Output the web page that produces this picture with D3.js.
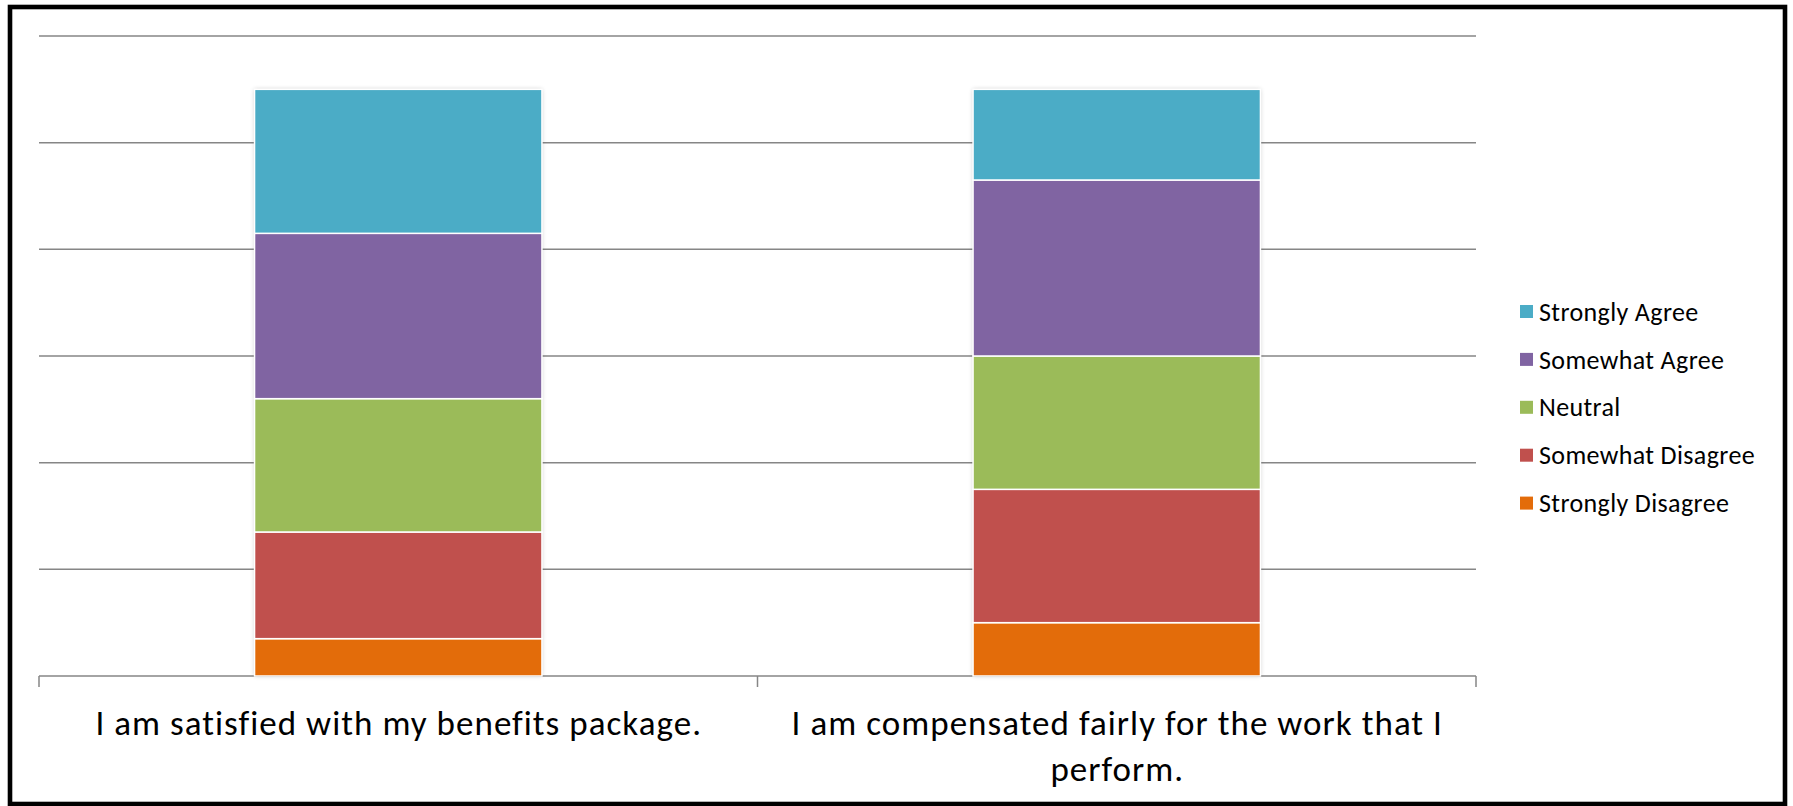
<!DOCTYPE html>
<html>
<head>
<meta charset="utf-8">
<script src="https://cdn.jsdelivr.net/npm/d3@7"></script>
<style>
  html, body { margin: 0; padding: 0; background: #fff; }
  svg { display: block; }
</style>
</head>
<body>
<svg id="chart" width="1793" height="806"></svg>
<script>
const categories = ["I am satisfied with my benefits package.", "I am compensated fairly for the work that I perform."];
const seriesNames = ["Strongly Disagree", "Somewhat Disagree", "Neutral", "Somewhat Agree", "Strongly Agree"];
const stronglyDisagree = [7, 10];
const somewhatDisagree = [20, 25];
const neutral = [25, 25];
const somewhatAgree = [31, 33];
const stronglyAgree = [27, 17];
const yTicks = [0, 20, 40, 60, 80, 100, 120];
const seriesColors = ["#E36C0A", "#C0504D", "#9BBB59", "#8064A2", "#4BACC6"];

const seriesValues = [stronglyDisagree, somewhatDisagree, neutral, somewhatAgree, stronglyAgree];
const table = categories.map((c, i) => {
  const row = { category: c };
  seriesNames.forEach((s, j) => row[s] = seriesValues[j][i]);
  return row;
});

const FONT = "Carlito, Calibri, Lato, 'Open Sans', sans-serif";
const svg = d3.select("#chart");

const defs = svg.append("defs");
const f = defs.append("filter").attr("id", "shadow").attr("x", "-10%").attr("y", "-10%").attr("width", "120%").attr("height", "120%");
f.append("feDropShadow").attr("dx", 0).attr("dy", 0).attr("stdDeviation", 2).attr("flood-color", "#000").attr("flood-opacity", 0.22);

// frame
svg.append("rect").attr("x", 10).attr("y", 7).attr("width", 1775).attr("height", 797)
  .attr("fill", "#fff").attr("stroke", "#000").attr("stroke-width", 4.6);

const x = d3.scaleBand().domain(categories).range([39, 1476]).padding(0);
const y = d3.scaleLinear().domain([0, 120]).range([676, 36]);

// gridlines
svg.append("g").selectAll("line").data(yTicks).join("line")
  .attr("x1", x.range()[0]).attr("x2", x.range()[1])
  .attr("y1", d => y(d)).attr("y2", d => y(d))
  .attr("stroke", "#868686").attr("stroke-width", 1.5);

// category boundary ticks
const bounds = categories.map(c => x(c)).concat([x(categories[categories.length - 1]) + x.bandwidth()]);
svg.append("g").selectAll("line").data(bounds).join("line")
  .attr("x1", d => d).attr("x2", d => d)
  .attr("y1", y(0)).attr("y2", y(0) + 11)
  .attr("stroke", "#868686").attr("stroke-width", 1.5);

// stacked bars
const stack = d3.stack().keys(seriesNames)(table);
const barW = x.bandwidth() * 0.4;
const barsG = svg.append("g");
barsG.selectAll("rect.shadow").data(categories).join("rect")
  .attr("x", c => x(c) + (x.bandwidth() - barW) / 2)
  .attr("width", barW)
  .attr("y", (c, i) => y(d3.sum(seriesValues, s => s[i])))
  .attr("height", (c, i) => y(0) - y(d3.sum(seriesValues, s => s[i])))
  .attr("fill", "#fff").attr("filter", "url(#shadow)");
stack.forEach((layer, j) => {
  barsG.append("g").selectAll("rect").data(layer).join("rect")
    .attr("x", d => x(d.data.category) + (x.bandwidth() - barW) / 2)
    .attr("width", barW)
    .attr("y", d => y(d[1]))
    .attr("height", d => y(d[0]) - y(d[1]))
    .attr("fill", seriesColors[j])
    .attr("stroke", "#fff").attr("stroke-width", 1.5);
});

// measure helper
const meas = svg.append("text").attr("font-family", FONT).attr("visibility", "hidden");
function widthAt(t, size) { meas.attr("font-size", size).text(t); return meas.node().getComputedTextLength(); }

// category labels
const labelSize = 35;
const labelLS = Math.max(0, (606 - widthAt(categories[0], labelSize)) / categories[0].length);
function lineW(t) { return widthAt(t, labelSize) + labelLS * t.length; }
const maxW = x.bandwidth() - 30;
categories.forEach(c => {
  const words = c.split(" ");
  const lines = [];
  let cur = "";
  words.forEach(w => {
    const test = cur ? cur + " " + w : w;
    if (lineW(test) > maxW && cur) { lines.push(cur); cur = w; }
    else cur = test;
  });
  if (cur) lines.push(cur);
  const t = svg.append("text").attr("font-family", FONT).attr("font-size", labelSize)
    .attr("letter-spacing", labelLS).attr("fill", "#000").attr("text-anchor", "middle");
  lines.forEach((ln, k) => {
    t.append("tspan").attr("x", x(c) + x.bandwidth() / 2 + labelLS / 2).attr("y", 735 + k * 46).text(ln);
  });
});

// legend
const legendSize = 26;
const legendLS = Math.max(0, (216 - widthAt("Somewhat Disagree", legendSize)) / 17);
const legendOrder = seriesNames.slice().reverse();
const lg = svg.append("g");
legendOrder.forEach((s, k) => {
  const cy = 311.5 + k * 47.9;
  const j = seriesNames.indexOf(s);
  lg.append("rect").attr("x", 1520).attr("y", cy - 6.5).attr("width", 13).attr("height", 13)
    .attr("fill", seriesColors[j]);
  lg.append("text").attr("x", 1539).attr("y", cy).attr("dy", "0.35em")
    .attr("font-family", FONT).attr("font-size", legendSize).attr("letter-spacing", legendLS)
    .attr("fill", "#000").text(s);
});
meas.remove();
</script>
</body>
</html>
